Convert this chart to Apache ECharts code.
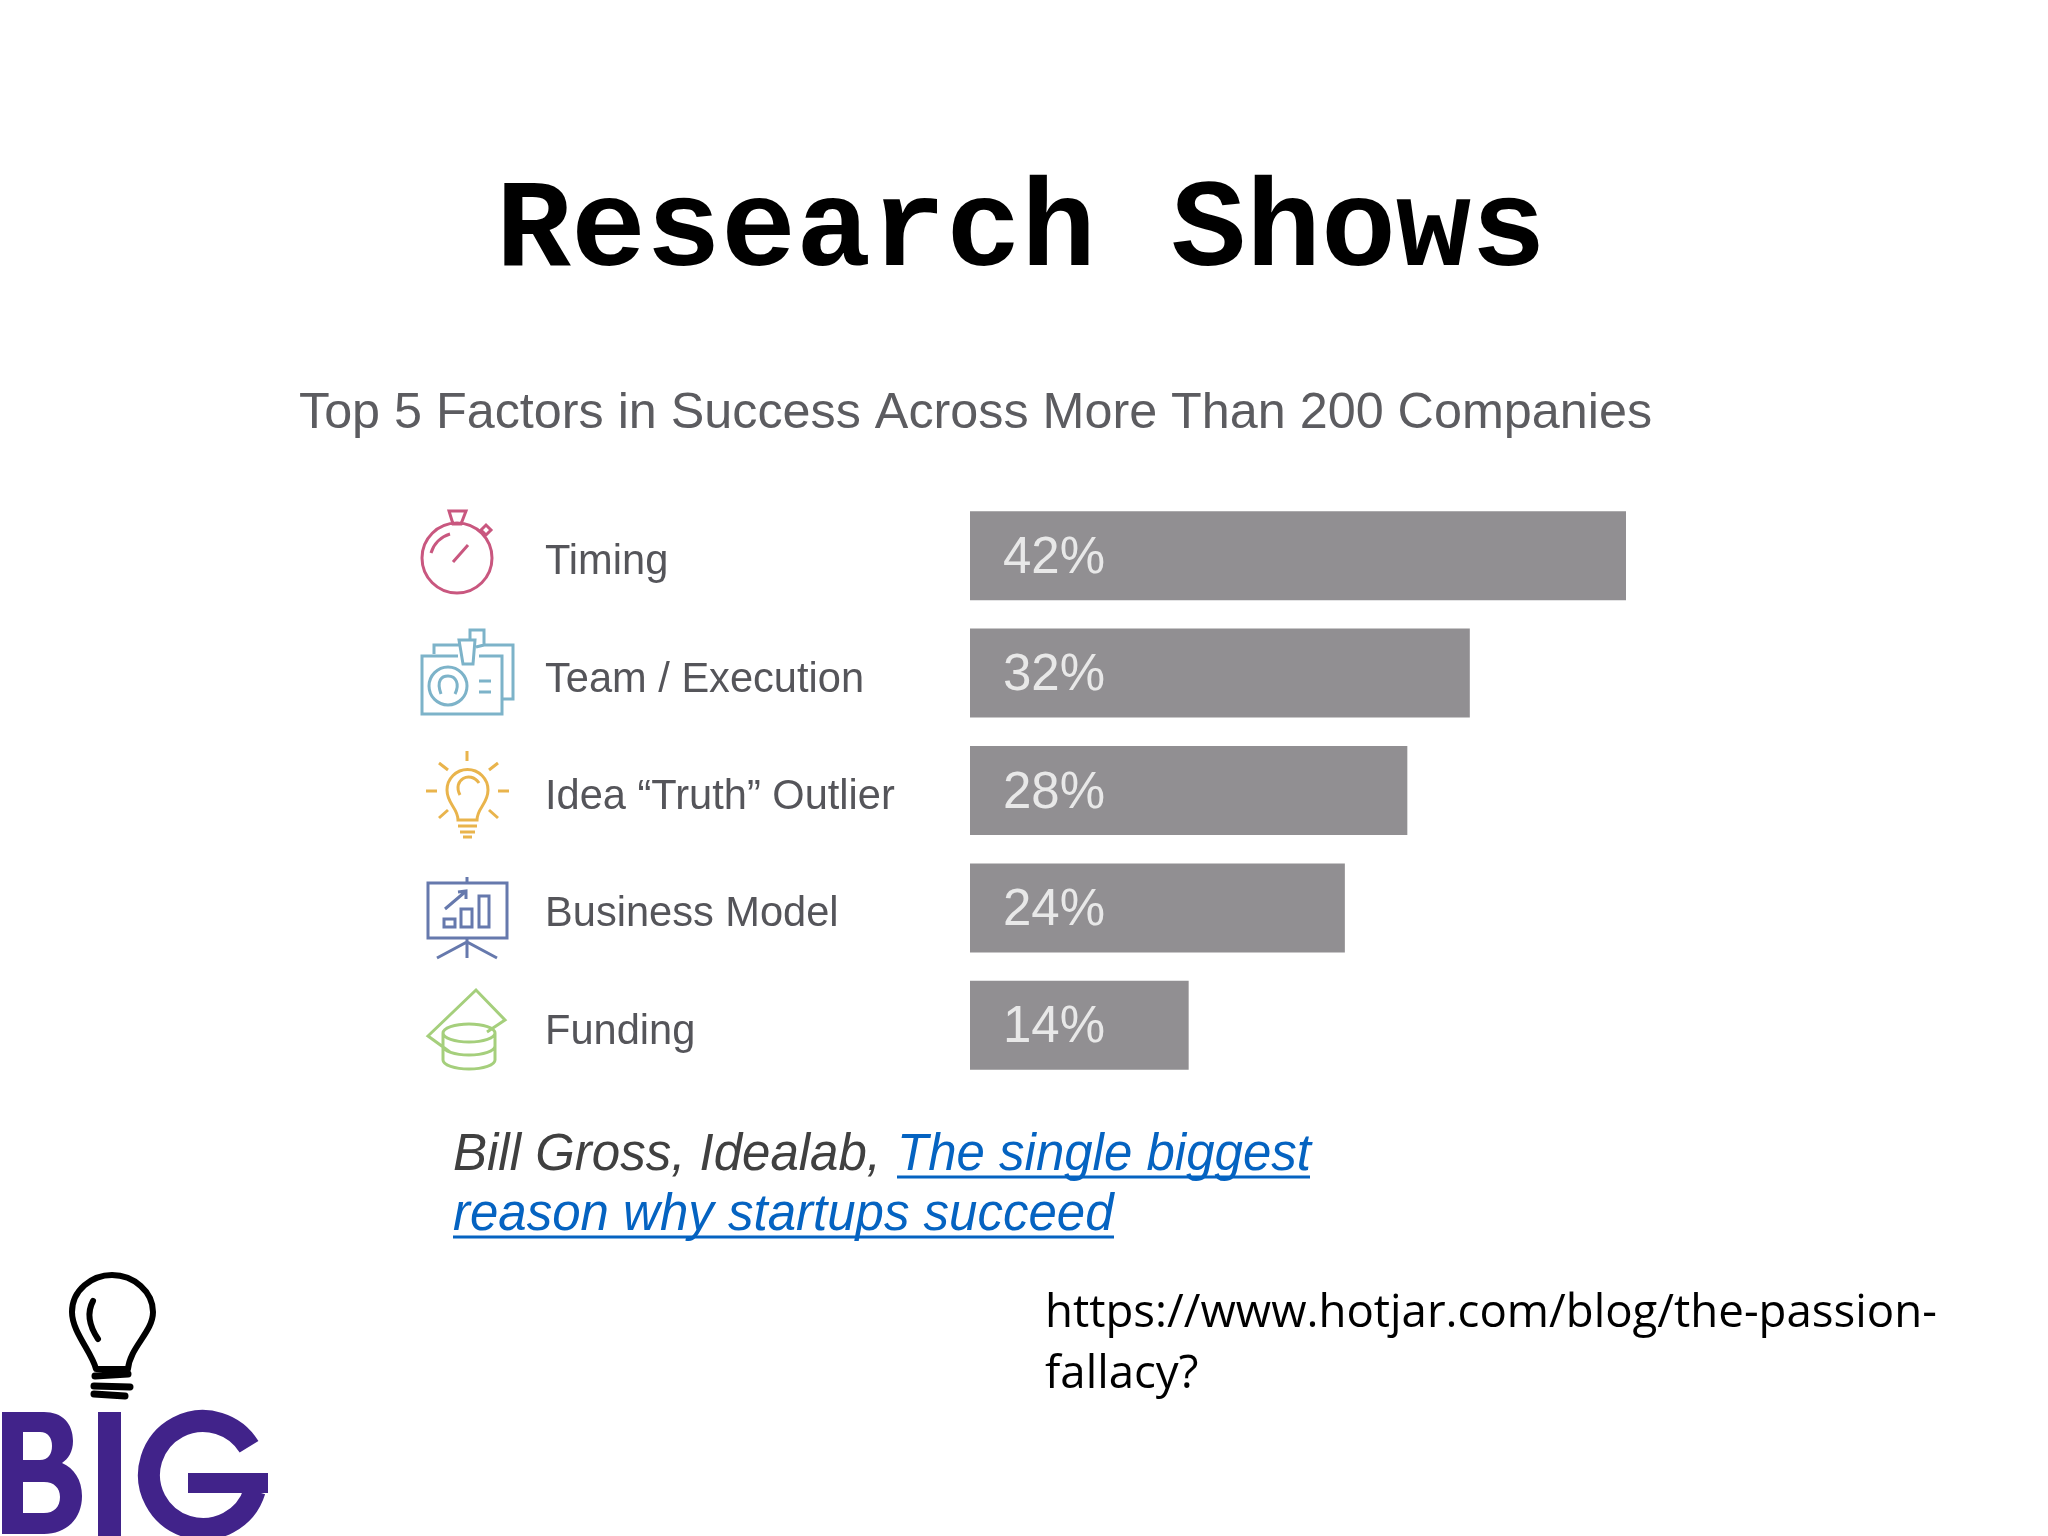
<!DOCTYPE html>
<html>
<head>
<meta charset="utf-8">
<style>
html,body{margin:0;padding:0;background:#fff}
#main{width:2048px;height:1536px}
</style>
<script src="https://cdn.jsdelivr.net/npm/echarts@6/dist/echarts.min.js"></script>
</head>
<body>
<div id="main"></div>
<script>
var categories=['Timing','Team / Execution','Idea “Truth” Outlier','Business Model','Funding'];
var values=[42,32,28,24,14];

var iconColors=['#c9577f','#7db3c9','#e9b44c','#6679ad','#a5cf7c'];
var iconPaths=[
    'M492 558A35 35 0 1 1 422 558A35 35 0 1 1 492 558ZM431 553A28 28 0 0 1 450 534M453 562L468 545M449 511L466 511L461 524L453 524ZM481 530L486 525L491 530L486 535Z',
    'M458 656L422 656L422 714L502 714L502 656L479 656M434 654L434 645L460 645M484 645L513 645L513 699L503 699M459 640L475 640L473 664L463 664ZM470 640L470 630L484 630L484 645L476 647M467 686A19 19 0 1 1 429 686A19 19 0 1 1 467 686ZM441 694C436 680 442 676 448 676C456 676 460 684 455 694M479 681L491 681M479 692L491 692',
    'M467 751L467 761M426 791L437 791M498 791L509 791M439 763L448 770M498 763L489 770M439 818L448 810M498 818L489 810M458 820C458 808 447 804 447 790A20.5 20.5 0 0 1 488 790C488 804 477 808 477 820ZM460 795C452 780 470 770 479 783M458 826L477 826M460 832L475 832M463 837L472 837',
    'M428 883L507 883L507 938L428 938ZM467 877L467 883M467 938L467 958M437 958L467 942L497 958M444 919L455 919L455 927L444 927ZM461 909L472 909L472 927L461 927ZM479 896L489 896L489 927L479 927ZM445 909L465 892M458 892L466 891L466 899',
    'M450 1052L428 1036L476 990L505 1020L487 1032M443 1033A26 9 0 1 1 495 1033A26 9 0 1 1 443 1033ZM443 1033L443 1060A26 9 0 0 0 495 1060L495 1033M443 1046A26 9 0 0 0 495 1046'
];
var logoBulb='M96 1369C92 1352 72 1332 72 1312C72 1290 92 1275 112 1275C134 1275 153 1292 153 1312C153 1332 130 1347 128 1369ZM93 1301C86 1314 90 1327 98 1339';
var logoCoil='M95 1376L128 1374M94 1386L130 1387M94 1394L125 1396';
var logoB='M2 1412L44 1412C62 1412 73 1423 73 1441C73 1452 68 1459 62 1463C74 1468 82 1480 82 1496C82 1519 66 1534 44 1534L2 1534ZM23 1432L23 1460L40 1460C48 1460 52 1454 52 1446C52 1438 48 1432 40 1432ZM23 1482L23 1513L44 1513C54 1513 60 1507 60 1497C60 1488 54 1482 44 1482Z';

var sans='"Liberation Sans"';
var logoPurple='#41238a';

// graphic component has no plain path type, so register each one as a shape
function pathEl(name,d,style){
    echarts.graphic.registerShape(name,echarts.graphic.extendPath(d,{}));
    return {type:name,silent:true,style:style};
}

var chart=echarts.init(document.getElementById('main'),null,{renderer:'canvas'});

var graphics=[
    {type:'text',silent:true,style:{text:'Research Shows',x:1021,y:234,textAlign:'center',textVerticalAlign:'middle',font:'bold 125px "Liberation Mono"',fill:'#000'}},
    {type:'text',silent:true,style:{text:'Top 5 Factors in Success Across More Than 200 Companies',x:299,y:414,textVerticalAlign:'middle',font:'50.3px '+sans,fill:'#5c5c60'}},
    {type:'text',silent:true,style:{text:'Bill Gross, Idealab, ',x:453,y:1156,textVerticalAlign:'middle',font:'italic 51px '+sans,fill:'#404040'}},
    {type:'text',silent:true,style:{text:'The single biggest',x:897,y:1156,textVerticalAlign:'middle',font:'italic 51px '+sans,fill:'#0563c1'}},
    {type:'text',silent:true,style:{text:'reason why startups succeed',x:453,y:1216,textVerticalAlign:'middle',font:'italic 51px '+sans,fill:'#0563c1'}},
    {type:'line',silent:true,shape:{x1:897,y1:1177,x2:1310,y2:1177},style:{stroke:'#0563c1',lineWidth:3}},
    {type:'line',silent:true,shape:{x1:453,y1:1237,x2:1114,y2:1237},style:{stroke:'#0563c1',lineWidth:3}},
    {type:'text',silent:true,style:{text:'https://www.hotjar.com/blog/the-passion-',x:1045,y:1314,textVerticalAlign:'middle',font:'45.6px "Open Sans"',fill:'#000'}},
    {type:'text',silent:true,style:{text:'fallacy?',x:1045,y:1375,textVerticalAlign:'middle',font:'45.6px "Open Sans"',fill:'#000'}},
    // logo
    pathEl('logoBulb',logoBulb,{fill:'none',stroke:'#000',lineWidth:6,lineCap:'round',lineJoin:'round'}),
    pathEl('logoCoil',logoCoil,{fill:'none',stroke:'#000',lineWidth:7,lineCap:'round'}),
    pathEl('logoB',logoB,{fill:logoPurple}),
    {type:'rect',silent:true,shape:{x:98,y:1412,width:23,height:124},style:{fill:logoPurple}},
    {type:'arc',silent:true,shape:{cx:203,cy:1475,r:54,startAngle:0.3,endAngle:Math.PI*2-0.55,clockwise:true},style:{fill:'none',stroke:logoPurple,lineWidth:22}},
    {type:'rect',silent:true,shape:{x:188,y:1473,width:80,height:20},style:{fill:logoPurple}}
];
iconPaths.forEach(function(p,i){
    graphics.push(pathEl('icon'+i,p,{fill:'none',stroke:iconColors[i],lineWidth:3}));
});

var option={
    animation:false,
    backgroundColor:'#fff',
    grid:{left:970,top:497,width:656,height:587},
    xAxis:{type:'value',min:0,max:42,show:false},
    yAxis:{
        type:'category',
        inverse:true,
        data:categories,
        axisLine:{show:false},
        axisTick:{show:false},
        axisLabel:{
            margin:425,
            align:'left',
            formatter:'{l|{value}}',
            rich:{
                l:{
                    padding:[14,0,0,0],
                    fontFamily:'Liberation Sans',
                    fontSize:41.6,
                    color:'#55555a'
                }
            }
        }
    },
    series:[{
        type:'bar',
        data:values,
        barWidth:89,
        itemStyle:{color:'#918f92'},
        label:{
            show:true,
            position:'insideLeft',
            distance:33,
            offset:[0,3],
            formatter:'{c}%',
            fontFamily:'Liberation Sans',
            fontSize:51,
            color:'#e8e8e8'
        }
    }],
    graphic:graphics
};
chart.setOption(option);
</script>
</body>
</html>
